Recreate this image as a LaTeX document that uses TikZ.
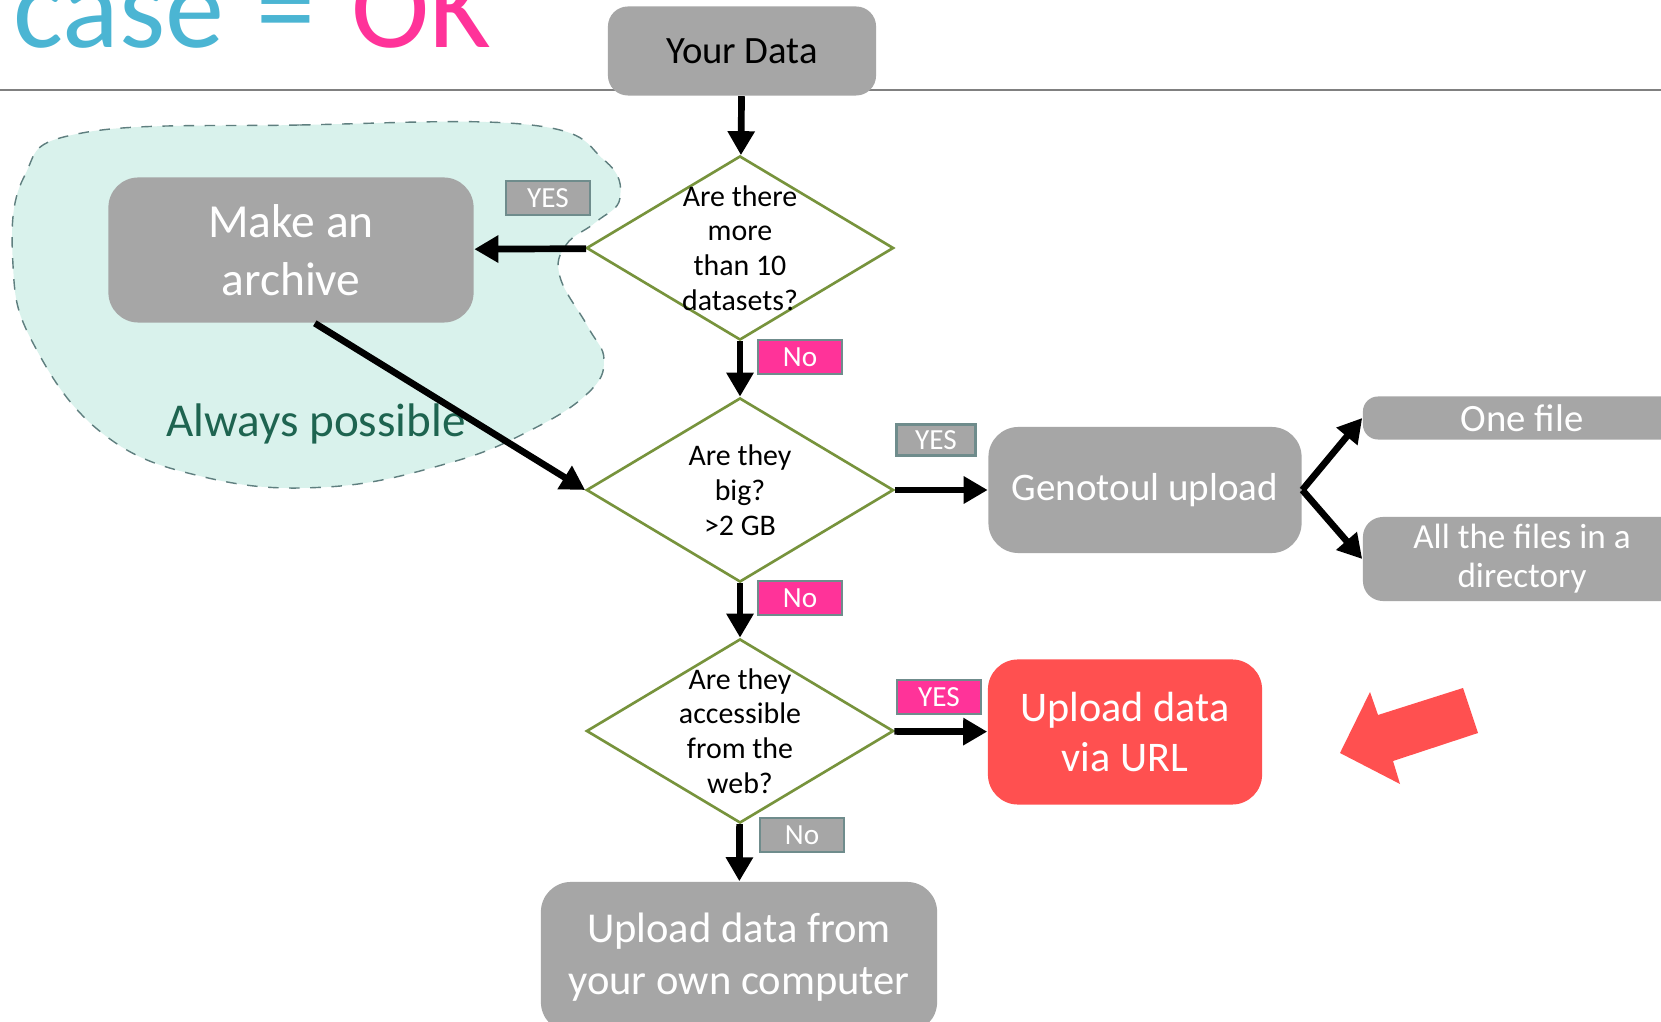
\documentclass[tikz,border=0pt]{standalone}
\usepackage{fontspec}
\setmainfont{Carlito}
\usepackage{xcolor}
\usepackage{tikz}
\usetikzlibrary{arrows.meta,shapes.geometric}
\definecolor{boxgrey}{HTML}{A6A6A6}
\definecolor{askgreen}{HTML}{77933C}
\definecolor{tagline}{HTML}{6F8C8C}
\definecolor{nopink}{HTML}{FF3399}
\definecolor{urlred}{HTML}{FF5050}
\definecolor{blobfill}{HTML}{D9F2EC}
\definecolor{blobline}{HTML}{5F7F7F}
\definecolor{blobtext}{HTML}{1E6450}
\definecolor{titleblue}{HTML}{4BB5D3}

\begin{document}
\begin{tikzpicture}[x=0.01cm,y=-0.01cm,>={Triangle[length=2.4mm,width=2.6mm]},
box/.style={rounded corners=2mm,fill=boxgrey,text=white,align=center,inner sep=0pt},
ask/.style={diamond,draw=askgreen,line width=0.75pt,fill=white,minimum width=3.07cm,minimum height=1.84cm,inner sep=0pt},
asktext/.style={font=\fontsize{8.5}{9.9}\selectfont,align=center},
tag/.style={draw=tagline,line width=0.6pt,text=white,inner sep=0pt,minimum width=0.84cm,minimum height=0.34cm,font=\fontsize{8.3}{9}\selectfont},
link/.style={->,line width=1.9pt}]
\fill[white](0,0)rectangle(1661,1022);
\clip(0,0)rectangle(1661,1022);
\draw[blobline,fill=blobfill,dashed,line width=0.4pt]plot[smooth cycle,tension=0.7]coordinates{
(82,133)(300,125)(531,125)(604,160)(620,198)(596,222)(566,245)(560,277)(588,327)(604,360)(588,393)
(531,430)(449,463)(327,487)(204,477)(102,433)(33,343)(13,265)(24,177)};
\node[text=blobtext,font=\fontsize{13.4}{16}\selectfont](always)at(316,424){Always possible};
\node[anchor=base west,inner sep=0pt,font=\fontsize{33.6}{40}\selectfont](title)at(13,48)
{\textcolor{titleblue}{case\hspace{1.5pt} =}\hspace{2.8pt} \textcolor{nopink}{OK}};
\draw[gray,line width=0.4pt](0,90)--(1661,90);
\node[box,text=black,minimum width=2.68cm,minimum height=0.89cm,font=\fontsize{11}{13}\selectfont](data)at(742,51){Your Data};
\node[ask,label={[asktext]center:Are there\\more\\than 10\\datasets?}](d1)at(740,248){};
\node[ask,label={[asktext]center:Are they\\big?\\>2 GB}](d2)at(740,490){};
\node[ask,label={[asktext]center:Are they\\accessible\\from the\\web?}](d3)at(740,731){};
\node[box,rounded corners=3mm,minimum width=3.65cm,minimum height=1.45cm,font=\fontsize{13.5}{16.5}\selectfont](archive)at(291,250){Make an\\archive};
\node[box,rounded corners=3mm,minimum width=3.13cm,minimum height=1.26cm,font=\fontsize{11.1}{13}\selectfont](genotoul)at(1145,490){Genotoul upload};
\node[box,rounded corners=1.5mm,minimum width=3.18cm,minimum height=0.43cm,font=\fontsize{11}{12}\selectfont](onefile)at(1522,418){One file};
\node[box,rounded corners=2mm,minimum width=3.18cm,minimum height=0.84cm,font=\fontsize{10}{11.1}\selectfont](allfiles)at(1522,559){All the files in a\\directory};
\node[box,fill=urlred,rounded corners=3mm,minimum width=2.74cm,minimum height=1.45cm,font=\fontsize{12}{14.2}\selectfont](url)at(1125,732){Upload data\\via URL};
\node[box,rounded corners=3mm,minimum width=3.96cm,minimum height=1.5cm,font=\fontsize{12.1}{14.8}\selectfont](local)at(739,957){Upload data from\\your own computer};
\node[tag,fill=boxgrey](yes1)at(548,198){YES};
\node[tag,fill=nopink](no1)at(800,357){No};
\node[tag,fill=boxgrey,minimum width=0.79cm,minimum height=0.31cm](yes2)at(936,440){YES};
\node[tag,fill=nopink](no2)at(800,598){No};
\node[tag,fill=nopink](yes3)at(939,697){YES};
\node[tag,fill=boxgrey](no3)at(802,835){No};
\draw[link](data)--(d1);
\draw[link](d1)--(archive);
\draw[link](archive.-72)--(d2.west);
\draw[link](d1)--(d2);
\draw[link](d2)--(genotoul);
\draw[link](genotoul.east)--(onefile.west);
\draw[link](genotoul.east)--(allfiles.west);
\draw[link](d2)--(d3);
\draw[link](d3)--(url);
\draw[link](d3)--(local);
\fill[urlred](1340,753)--(1370,692)--(1378,715)--(1463,688)--(1478,733)--(1393,761)--(1400,784)--cycle;
\end{tikzpicture}
\end{document}
